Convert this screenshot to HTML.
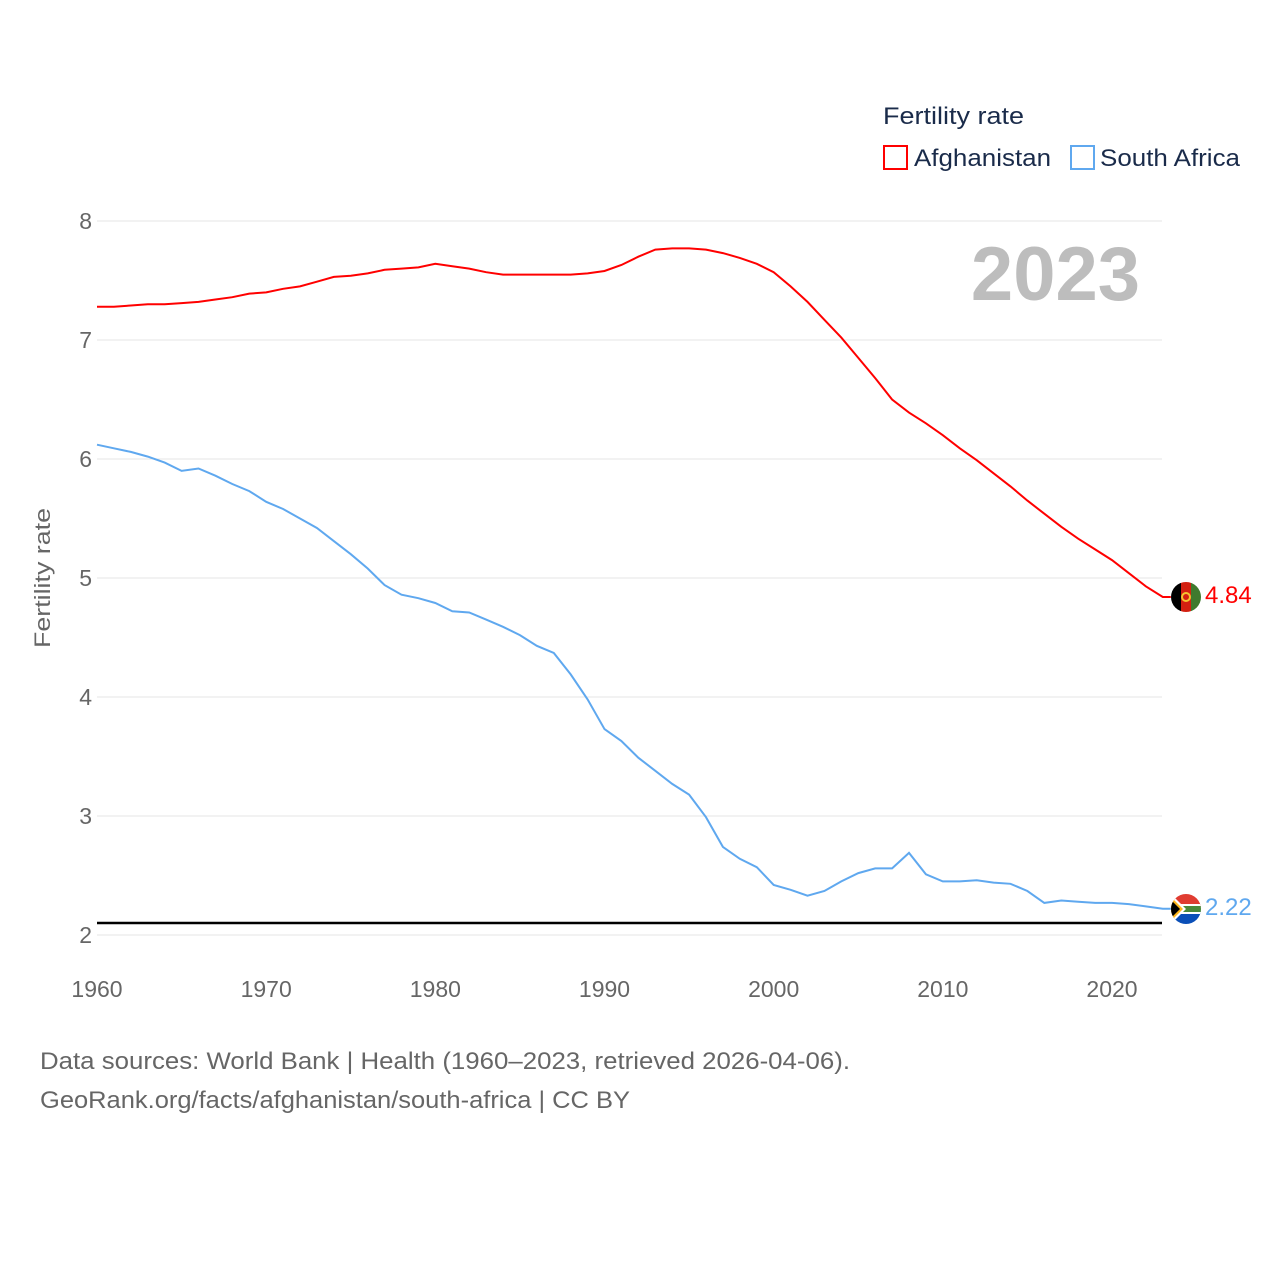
<!DOCTYPE html>
<html><head><meta charset="utf-8"><style>
body{margin:0;background:#fff;font-family:"Liberation Sans",sans-serif}
svg text{font-family:"Liberation Sans",sans-serif}
</style></head><body>
<svg id="chart" width="1280" height="1280" xmlns="http://www.w3.org/2000/svg">
<defs>
<clipPath id="c1"><circle cx="1186" cy="597" r="15"/></clipPath>
<clipPath id="c2"><circle cx="1186" cy="909" r="15"/></clipPath>
</defs>
<g id="grid"></g>
<g id="xt"></g>
<text x="0" y="0" transform="translate(50,578) rotate(-90)" text-anchor="middle" font-size="22" fill="#666" textLength="140" lengthAdjust="spacingAndGlyphs">Fertility rate</text>
<text x="1140" y="300" text-anchor="end" font-size="76" font-weight="bold" fill="#bdbdbd">2023</text>
<text x="883" y="124" font-size="24" fill="#1a2b4a" textLength="141" lengthAdjust="spacingAndGlyphs">Fertility rate</text>
<rect x="884" y="146" width="23" height="23" fill="none" stroke="#ff0000" stroke-width="2"/>
<text x="914" y="166" font-size="24" fill="#1a2b4a" textLength="137" lengthAdjust="spacingAndGlyphs">Afghanistan</text>
<rect x="1071" y="146" width="23" height="23" fill="none" stroke="#5fa8ef" stroke-width="2"/>
<text x="1100" y="166" font-size="24" fill="#1a2b4a" textLength="140" lengthAdjust="spacingAndGlyphs">South Africa</text>
<line x1="97" x2="1162" y1="923" y2="923" stroke="#000" stroke-width="2.5"/>
<g id="series"></g>
<g clip-path="url(#c1)">
<rect x="1171" y="582" width="10" height="30" fill="#000"/><rect x="1181" y="582" width="10" height="30" fill="#d32011"/><rect x="1191" y="582" width="10" height="30" fill="#3f7a2e"/>
<circle cx="1186" cy="597" r="4" fill="none" stroke="#f4c430" stroke-width="2"/></g>
<g clip-path="url(#c2)">
<rect x="1171" y="894" width="30" height="15" fill="#e03c31"/><rect x="1171" y="909" width="30" height="15" fill="#0a4fb8"/>
<rect x="1171" y="904" width="30" height="10" fill="#fff"/><rect x="1171" y="906" width="30" height="6" fill="#4a8a3a"/>
<polygon points="1171,894 1186,909 1171,924" fill="#fff"/><polygon points="1171,897 1183,909 1171,921" fill="#ffb81c"/><polygon points="1171,900 1180,909 1171,918" fill="#000"/></g>
<text x="1205" y="603" font-size="24" fill="#ff0000">4.84</text>
<text x="1205" y="915" font-size="24" fill="#5fa8ef">2.22</text>
<text x="40" y="1069" font-size="24" fill="#666" textLength="810" lengthAdjust="spacingAndGlyphs">Data sources: World Bank | Health (1960–2023, retrieved 2026-04-06).</text>
<text x="40" y="1108" font-size="24" fill="#666" textLength="590" lengthAdjust="spacingAndGlyphs">GeoRank.org/facts/afghanistan/south-africa | CC BY</text>
</svg>
<script>
const years=[];for(let y=1960;y<=2023;y++)years.push(y);
const afghanistan=[7.28,7.28,7.29,7.30,7.30,7.31,7.32,7.34,7.36,7.39,7.40,7.43,7.45,7.49,7.53,7.54,7.56,7.59,7.60,7.61,7.64,7.62,7.60,7.57,7.55,7.55,7.55,7.55,7.55,7.56,7.58,7.63,7.70,7.76,7.77,7.77,7.76,7.73,7.69,7.64,7.57,7.45,7.32,7.17,7.02,6.85,6.68,6.50,6.39,6.30,6.20,6.09,5.99,5.88,5.77,5.65,5.54,5.43,5.33,5.24,5.15,5.04,4.93,4.84];
const southAfrica=[6.12,6.09,6.06,6.02,5.97,5.90,5.92,5.86,5.79,5.73,5.64,5.58,5.50,5.42,5.31,5.20,5.08,4.94,4.86,4.83,4.79,4.72,4.71,4.65,4.59,4.52,4.43,4.37,4.19,3.98,3.73,3.63,3.49,3.38,3.27,3.18,2.99,2.74,2.64,2.57,2.42,2.38,2.33,2.37,2.45,2.52,2.56,2.56,2.69,2.51,2.45,2.45,2.46,2.44,2.43,2.37,2.27,2.29,2.28,2.27,2.27,2.26,2.24,2.22];
const yTicks=[2,3,4,5,6,7,8];
const xTicks=[1960,1970,1980,1990,2000,2010,2020];
const X=y=>97+(y-1960)*(1015/60);
const Y=v=>935-(v-2)*119;
const NS="http://www.w3.org/2000/svg";
const grid=document.getElementById('grid');
yTicks.forEach(t=>{
 const l=document.createElementNS(NS,'line');
 
 
 l.setAttribute('x1',97);l.setAttribute('x2',1162);l.setAttribute('y1',Y(t));l.setAttribute('y2',Y(t));
 l.setAttribute('stroke','#e6e6e6');l.setAttribute('stroke-width','1');grid.appendChild(l);
 const tx=document.createElementNS(NS,'text');
 
 
 tx.setAttribute('x',92);tx.setAttribute('y',Y(t)+8);tx.setAttribute('text-anchor','end');
 tx.setAttribute('font-size','23');tx.setAttribute('fill','#666');tx.textContent=t;grid.appendChild(tx);
});
const xt=document.getElementById('xt');
xTicks.forEach(t=>{
 const tx=document.createElementNS(NS,'text');
 
 
 tx.setAttribute('x',X(t));tx.setAttribute('y',997);tx.setAttribute('text-anchor','middle');
 tx.setAttribute('font-size','23');tx.setAttribute('fill','#666');tx.textContent=t;xt.appendChild(tx);
});
const series=document.getElementById('series');
function draw(vals,color,name){
 const p=document.createElementNS(NS,'path');
 
 
 let d=vals.map((v,i)=>(i?'L':'M')+X(years[i]).toFixed(1)+','+Y(v).toFixed(1)).join('');
 d+='L'+(X(years[years.length-1])+8).toFixed(1)+','+Y(vals[vals.length-1]).toFixed(1);
 p.setAttribute('d',d);p.setAttribute('fill','none');p.setAttribute('stroke',color);p.setAttribute('stroke-width','2');
 series.appendChild(p);
}
draw(afghanistan,'#ff0000','line-afghanistan');
draw(southAfrica,'#5fa8ef','line-south-africa');
</script>
</body></html>
